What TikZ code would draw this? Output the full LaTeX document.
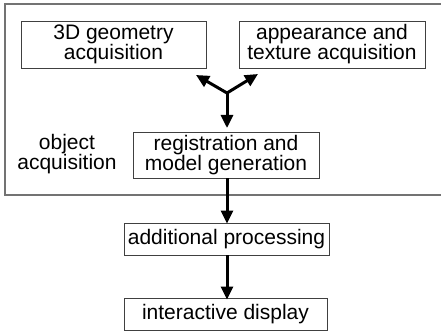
\documentclass[tikz,border=0pt]{standalone}
\usepackage{fontspec}
\setmainfont{Liberation Sans}
\usetikzlibrary{arrows.meta}
\begin{document}
\begin{tikzpicture}[x=1pt,y=-1pt,
  stagebox/.style={draw=black!75, line width=0.9pt, inner sep=0pt, align=center,
    font=\fontsize{21}{20}\selectfont},
  lbl/.style={inner sep=0pt, align=center, font=\fontsize{21}{20}\selectfont},
  flow/.style={line width=3pt, -{Triangle[length=13pt,width=12pt]}},
  frame/.style={draw=black!55, line width=1.5pt}]
\useasboundingbox (0,0) rectangle (441,331);
\draw[frame] (441,4) -- (5,4) -- (5,195) -- (441,195);
\node[stagebox, minimum width=185pt, minimum height=47pt] (geo) at (113.5,44.5) {3D geometry\\acquisition};
\node[stagebox, minimum width=186pt, minimum height=47pt] (app) at (332,44.5) {appearance and\\texture acquisition};
\node[stagebox, minimum width=186pt, minimum height=46pt] (reg) at (226,155) {registration and\\model generation};
\node[lbl] (obj) at (67,154) {object\\acquisition};
\node[stagebox, minimum width=205pt, minimum height=32pt] (add) at (226.5,239) {additional processing};
\node[stagebox, minimum width=203pt, minimum height=32pt] (disp) at (225.5,314) {interactive display};
\coordinate (fork) at (227,93);
\coordinate (tl) at (196,75);
\coordinate (tr) at (258,74);
\coordinate (td) at (227,128);
\draw[flow] (fork) -- (tl);
\draw[flow] (fork) -- (tr);
\draw[flow] (fork) -- (td);
\draw[flow] (reg.south -| fork) -- ([yshift=-1pt]add.north -| fork);
\draw[flow] (add.south -| fork) -- ([yshift=-2pt]disp.north -| fork);
\end{tikzpicture}
\end{document}
